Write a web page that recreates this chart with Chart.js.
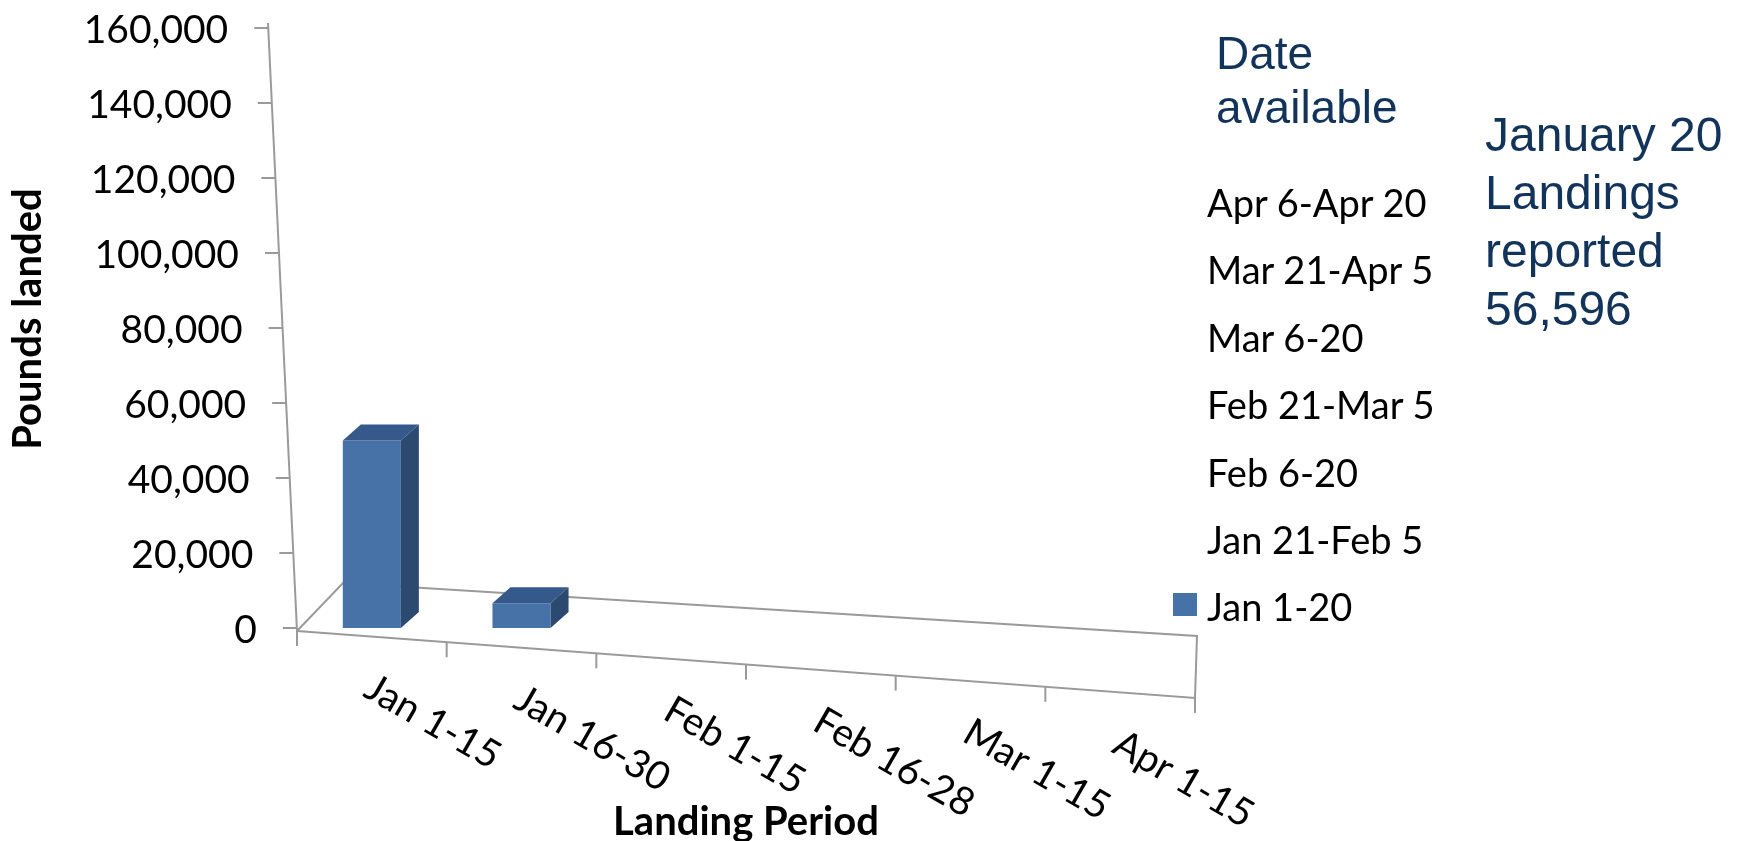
<!DOCTYPE html>
<html>
<head>
<meta charset="utf-8">
<script src="https://cdn.jsdelivr.net/npm/chart.js@4/dist/chart.umd.min.js"></script>
<style>
  body { margin: 0; background: #fff; }
  #wrap { position: relative; width: 1738px; height: 841px; overflow: hidden; }
  #landingChart { position: absolute; left: 0; top: 0; }
  #legendTitle {
    position: absolute; left: 1216px; top: 26px;
    font: 46px "Liberation Sans", Arial, sans-serif; line-height: 54px;
    color: #12335a;
  }
  #legendItems {
    position: absolute; left: 1207px; top: 169px;
    font: 38px Lato, sans-serif; color: #000;
  }
  .legend-item { position: relative; height: 67.4px; line-height: 67.4px; white-space: nowrap; }
  .legend-box { position: absolute; left: -34px; top: 20px; width: 24px; height: 23px; }
  #note {
    position: absolute; left: 1485px; top: 106px;
    font: 48px "Liberation Sans", Arial, sans-serif; line-height: 58px;
    color: #12335a;
  }
</style>
</head>
<body>
<div id="wrap">
  <canvas id="landingChart" width="1738" height="841"></canvas>
  <div id="legendTitle">Date<br>available</div>
  <div id="legendItems"></div>
  <div id="note">January 20<br>Landings<br>reported<br>56,596</div>
</div>

<script>
// ===============================
// DATA
// ===============================

const landingPeriods = ["Jan 1-15", "Jan 16-30", "Feb 1-15", "Feb 16-28", "Mar 1-15", "Apr 1-15"];

// series = date the landings became available
const availableDates = ["Jan 1-20", "Jan 21-Feb 5", "Feb 6-20", "Feb 21-Mar 5", "Mar 6-20", "Mar 21-Apr 5", "Apr 6-Apr 20"];

// pounds landed, only the first report is in so far
const jan1to20 = [50000, 6596, null, null, null, null];
const notYetReported = [null, null, null, null, null, null];

const yMax = 160000;
const yStep = 20000;

const seriesColors = ["#4672a8", "transparent", "transparent", "transparent", "transparent", "transparent", "transparent"];


// ===============================
// STYLE
// ===============================

const AXIS_COLOR = "#9a9a9a";
const TOP_COLOR = "#35598a";
const SIDE_COLOR = "#2c4a70";
const DEPTH_X = 18;
const DEPTH_Y = -16;
const FLOOR_SLOPE = 0.0746;


// ===============================
// FAKE 3D FRAME + LABELS
// ===============================

function frontY(chart, px) {
  const a = chart.chartArea;
  return a.bottom + 3 + FLOOR_SLOPE * (px - a.left);
}

const frame3d = {
  id: "frame3d",

  beforeDatasetsDraw(chart) {
    const { ctx, chartArea: a, scales } = chart;
    const xs = scales.x, ys = scales.y;

    const fl = { x: a.left, y: frontY(chart, a.left) };
    const fr = { x: a.right, y: frontY(chart, a.right) };
    const bl = { x: fl.x + 46, y: fl.y - 48 };
    const br = { x: fr.x + 2, y: fr.y - 62 };

    ctx.save();
    ctx.strokeStyle = AXIS_COLOR;
    ctx.lineWidth = 2;

    // floor
    ctx.beginPath();
    ctx.moveTo(fl.x, fl.y);
    ctx.lineTo(bl.x, bl.y);
    ctx.lineTo(br.x, br.y);
    ctx.lineTo(fr.x, fr.y);
    ctx.lineTo(fl.x, fl.y);
    ctx.stroke();

    // value axis (leans back a little)
    const topY = a.top - 5;
    const axisX = py => fl.x - (fl.y - py) * 29 / (fl.y - topY);
    ctx.beginPath();
    ctx.moveTo(fl.x, fl.y);
    ctx.lineTo(axisX(topY), topY);
    ctx.stroke();

    ctx.fillStyle = "#000";
    ctx.font = "39px Lato, sans-serif";
    ctx.textAlign = "right";
    ctx.textBaseline = "middle";
    ys.ticks.forEach(t => {
      const py = ys.getPixelForValue(t.value);
      const ax = axisX(py);
      ctx.beginPath();
      ctx.moveTo(ax - 14, py);
      ctx.lineTo(ax, py);
      ctx.stroke();
      ctx.fillText(t.value.toLocaleString("en-US"), ax - 40, py + 2);
    });

    // category ticks on the front edge
    for (let i = 0; i <= landingPeriods.length; i++) {
      const px = xs.getPixelForValue(i - 0.5);
      const py = frontY(chart, px);
      ctx.beginPath();
      ctx.moveTo(px, py);
      ctx.lineTo(px, py + 15);
      ctx.stroke();
    }

    ctx.restore();
  },

  afterDatasetsDraw(chart) {
    const { ctx } = chart;
    ctx.save();
    chart.data.datasets.forEach((ds, di) => {
      const meta = chart.getDatasetMeta(di);
      meta.data.forEach((bar, i) => {
        if (ds.data[i] == null) return;
        const { x, y, base, width } = bar.getProps(["x", "y", "base", "width"], true);
        const l = x - width / 2, r = x + width / 2;

        // top
        ctx.fillStyle = TOP_COLOR;
        ctx.beginPath();
        ctx.moveTo(l, y);
        ctx.lineTo(r, y);
        ctx.lineTo(r + DEPTH_X, y + DEPTH_Y);
        ctx.lineTo(l + DEPTH_X, y + DEPTH_Y);
        ctx.closePath();
        ctx.fill();

        // side
        ctx.fillStyle = SIDE_COLOR;
        ctx.beginPath();
        ctx.moveTo(r, y);
        ctx.lineTo(r + DEPTH_X, y + DEPTH_Y);
        ctx.lineTo(r + DEPTH_X, base + DEPTH_Y);
        ctx.lineTo(r, base);
        ctx.closePath();
        ctx.fill();
      });
    });
    ctx.restore();
  },

  afterDraw(chart) {
    const { ctx, chartArea: a, scales } = chart;
    const xs = scales.x;
    ctx.save();
    ctx.fillStyle = "#000";

    // category labels, turned clockwise
    ctx.font = "39px Lato, sans-serif";
    ctx.textAlign = "left";
    ctx.textBaseline = "alphabetic";
    landingPeriods.forEach((label, i) => {
      const cx = xs.getPixelForValue(i);
      ctx.save();
      ctx.translate(cx - 10, frontY(chart, cx) + 59);
      ctx.rotate(Math.PI / 6);
      ctx.fillText(label, 0, 0);
      ctx.restore();
    });

    // axis titles
    ctx.font = "bold 40px Lato, sans-serif";
    ctx.textAlign = "center";
    ctx.fillText("Landing Period", (a.left + a.right) / 2, 835);

    ctx.save();
    ctx.font = "bold 40px Lato, sans-serif";
    ctx.translate(41, 319);
    ctx.rotate(-Math.PI / 2);
    ctx.fillText("Pounds landed", 0, 0);
    ctx.restore();

    ctx.restore();
  }
};


// ===============================
// CHART
// ===============================

const datasets = availableDates.map((name, i) => ({
  label: name,
  data: i === 0 ? jan1to20 : notYetReported,
  backgroundColor: seriesColors[i],
  borderWidth: 0
}));

const landingChart = new Chart(document.getElementById("landingChart"), {
  type: "bar",
  data: {
    labels: landingPeriods,
    datasets: datasets
  },
  options: {
    responsive: false,
    animation: false,
    layout: {
      padding: { left: 297, right: 543, top: 28, bottom: 213 }
    },
    datasets: {
      bar: { barPercentage: 0.388, categoryPercentage: 1 }
    },
    plugins: {
      legend: { display: false },
      tooltip: { enabled: false }
    },
    scales: {
      x: { display: false, stacked: true },
      y: {
        display: false,
        stacked: true,
        min: 0,
        max: yMax,
        ticks: { stepSize: yStep }
      }
    }
  },
  plugins: [frame3d]
});


// ===============================
// LEGEND (newest report on top)
// ===============================

const legendItems = document.getElementById("legendItems");
landingChart.data.datasets.slice().reverse().forEach(ds => {
  legendItems.innerHTML += `
    <div class="legend-item">
      <span class="legend-box" style="background:${ds.backgroundColor}"></span>${ds.label}
    </div>
  `;
});
</script>
</body>
</html>
